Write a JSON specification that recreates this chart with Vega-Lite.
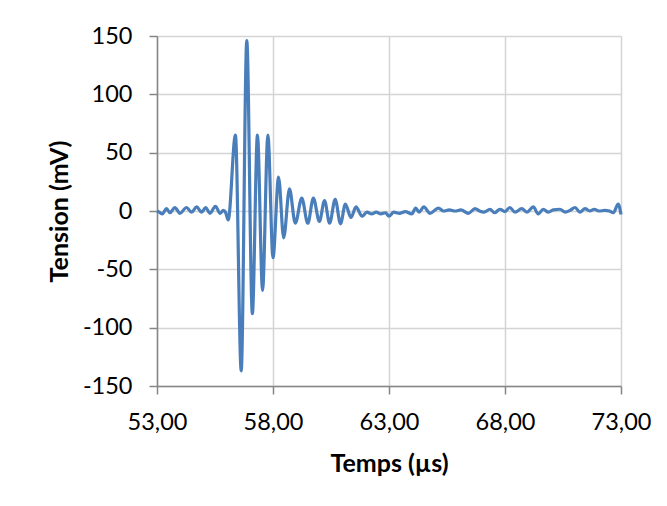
{
  "$schema": "https://vega.github.io/schema/vega-lite/v6.json",
  "autosize": {"type": "none"},
  "padding": {"left": 157, "top": 36, "right": 46, "bottom": 120},
  "width": 464,
  "height": 350,
  "background": "white",
  "config": {
    "view": {"stroke": null},
    "font": "Lato",
    "axis": {
      "labelFont": "Lato",
      "titleFont": "Lato",
      "labelFontSize": 23.5,
      "titleFontSize": 25,
      "labelColor": "#000000",
      "titleColor": "#000000",
      "titleFontWeight": "bold",
      "gridColor": "#d4d4d4",
      "gridWidth": 1.5,
      "domainColor": "#868686",
      "domainWidth": 1.5,
      "tickColor": "#868686",
      "tickWidth": 1.5,
      "tickSize": 8
    }
  },
  "data": {
    "values": [
      {"t": 53.00, "v": 0},
      {"t": 53.10, "v": -1},
      {"t": 53.23, "v": -2.5},
      {"t": 53.41, "v": 2},
      {"t": 53.56, "v": -1.5},
      {"t": 53.77, "v": 3},
      {"t": 53.99, "v": -2},
      {"t": 54.27, "v": 3},
      {"t": 54.49, "v": -1},
      {"t": 54.71, "v": 3.5},
      {"t": 54.92, "v": -1},
      {"t": 55.10, "v": 3},
      {"t": 55.28, "v": -2},
      {"t": 55.52, "v": 4},
      {"t": 55.72, "v": -2},
      {"t": 55.86, "v": 0.5},
      {"t": 55.95, "v": -1},
      {"t": 56.07, "v": -7.7},
      {"t": 56.38, "v": 65},
      {"t": 56.63, "v": -137},
      {"t": 56.87, "v": 146},
      {"t": 57.11, "v": -88},
      {"t": 57.33, "v": 65},
      {"t": 57.55, "v": -68},
      {"t": 57.78, "v": 65},
      {"t": 58.00, "v": -40},
      {"t": 58.24, "v": 29},
      {"t": 58.46, "v": -23},
      {"t": 58.71, "v": 19},
      {"t": 58.96, "v": -10.5},
      {"t": 59.24, "v": 11},
      {"t": 59.50, "v": -10.5},
      {"t": 59.74, "v": 11},
      {"t": 60.00, "v": -9},
      {"t": 60.22, "v": 9},
      {"t": 60.44, "v": -10.5},
      {"t": 60.68, "v": 10},
      {"t": 60.91, "v": -11},
      {"t": 61.12, "v": 6},
      {"t": 61.36, "v": -5.5},
      {"t": 61.58, "v": 3.5},
      {"t": 61.84, "v": -4.5},
      {"t": 62.05, "v": -1},
      {"t": 62.25, "v": -2.5},
      {"t": 62.45, "v": -1},
      {"t": 62.65, "v": -2.5},
      {"t": 62.85, "v": -1.5},
      {"t": 63.00, "v": -4.5},
      {"t": 63.20, "v": -1},
      {"t": 63.45, "v": -2},
      {"t": 63.70, "v": -0.5},
      {"t": 63.98, "v": -2.5},
      {"t": 64.15, "v": 2.5},
      {"t": 64.30, "v": -1},
      {"t": 64.50, "v": 3.5},
      {"t": 64.77, "v": -2},
      {"t": 65.13, "v": 2.5},
      {"t": 65.35, "v": 0},
      {"t": 65.60, "v": 1},
      {"t": 65.85, "v": 0},
      {"t": 66.10, "v": 1},
      {"t": 66.42, "v": -2},
      {"t": 66.71, "v": 2},
      {"t": 66.90, "v": 0},
      {"t": 67.10, "v": -1},
      {"t": 67.35, "v": 1.5},
      {"t": 67.55, "v": -1.5},
      {"t": 67.78, "v": 1.5},
      {"t": 68.00, "v": -0.5},
      {"t": 68.21, "v": 3},
      {"t": 68.43, "v": -1},
      {"t": 68.72, "v": 2},
      {"t": 68.95, "v": -1},
      {"t": 69.22, "v": 3.5},
      {"t": 69.43, "v": -2.5},
      {"t": 69.65, "v": 1.5},
      {"t": 69.87, "v": -1},
      {"t": 70.08, "v": 1},
      {"t": 70.37, "v": 1.5},
      {"t": 70.60, "v": -1},
      {"t": 70.80, "v": 0.5},
      {"t": 71.02, "v": 3},
      {"t": 71.23, "v": -1},
      {"t": 71.45, "v": 2},
      {"t": 71.65, "v": 0},
      {"t": 71.85, "v": 1.5},
      {"t": 72.05, "v": 0},
      {"t": 72.30, "v": 0.5},
      {"t": 72.50, "v": 0},
      {"t": 72.67, "v": -1.5},
      {"t": 72.88, "v": 6},
      {"t": 73.00, "v": -3}
    ]
  },
  "mark": {"type": "line", "color": "#4a7ebb", "strokeWidth": 3.2, "interpolate": "monotone", "clip": false},
  "encoding": {
    "x": {
      "field": "t",
      "type": "quantitative",
      "scale": {"domain": [53, 73], "nice": false, "zero": false},
      "axis": {
        "title": "Temps (µs)",
        "values": [53, 58, 63, 68, 73],
        "labelExpr": "replace(format(datum.value, '.2f'), '.', ',')",
        "labelPadding": 16,
        "titlePadding": 18,
        "labelFlush": false,
        "labelOverlap": false
      }
    },
    "y": {
      "field": "v",
      "type": "quantitative",
      "scale": {"domain": [-150, 150], "nice": false},
      "axis": {
        "title": "Tension (mV)",
        "values": [-150, -100, -50, 0, 50, 100, 150],
        "labelExpr": "'' + datum.value",
        "labelPadding": 17,
        "titlePadding": 10,
        "labelFlush": false,
        "labelOverlap": false
      }
    }
  }
}
